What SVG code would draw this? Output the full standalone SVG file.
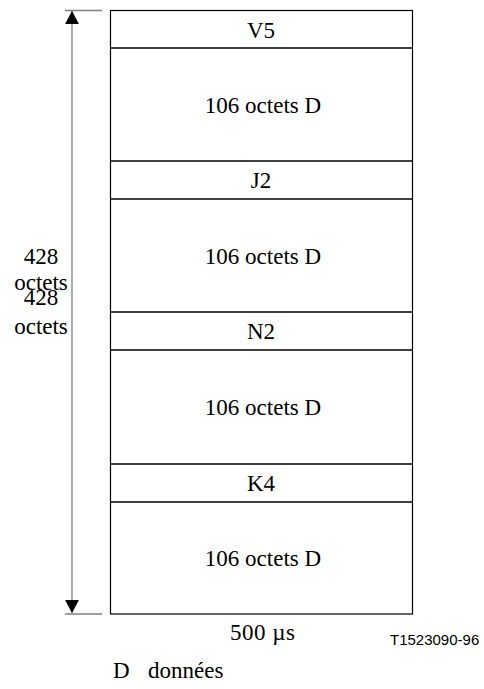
<svg xmlns="http://www.w3.org/2000/svg" width="484" height="689" viewBox="0 0 484 689">
<style>
.t{font-family:"Times New Roman","Liberation Serif","DejaVu Serif",serif;font-size:23px;fill:#000;text-anchor:middle}
.s{font-family:"Liberation Sans",Arial,sans-serif;font-size:15px;fill:#000}
.div{stroke:#000;stroke-width:1.4}
.g{stroke:#808080;stroke-width:1.3;fill:none}
</style>
<defs>
<marker id="ah" viewBox="0 0 13 14" refX="13" refY="7" markerWidth="13" markerHeight="14" markerUnits="userSpaceOnUse" orient="auto-start-reverse">
<path d="M0,0 L13,7 L0,14 Z" fill="#000"/>
</marker>
</defs>
<rect x="0" y="0" width="484" height="689" fill="#fff"/>
<g id="connectors">
<line class="g" x1="65" y1="10.5" x2="102" y2="10.5"/>
<line class="g" x1="65" y1="614" x2="102" y2="614"/>
<line class="g" x1="72" y1="11" x2="72" y2="613" marker-start="url(#ah)" marker-end="url(#ah)"/>
</g>
<g id="frame">
<rect x="110.5" y="10.5" width="302" height="603.5" fill="none" stroke="#000" stroke-width="1.2"/>
</g>
<g id="V5"><line class="div" x1="110" y1="48" x2="413" y2="48"/><text class="t" x="261" y="38">V5</text></g>
<g id="D1"><text class="t" x="263" y="113">106 octets D</text></g>
<g id="J2"><line class="div" x1="110" y1="161" x2="413" y2="161"/><line class="div" x1="110" y1="199" x2="413" y2="199"/><text class="t" x="261" y="188">J2</text></g>
<g id="D2"><text class="t" x="263" y="264">106 octets D</text></g>
<g id="N2"><line class="div" x1="110" y1="312" x2="413" y2="312"/><line class="div" x1="110" y1="350" x2="413" y2="350"/><text class="t" x="261" y="339">N2</text></g>
<g id="D3"><text class="t" x="263" y="415">106 octets D</text></g>
<g id="K4"><line class="div" x1="110" y1="464" x2="413" y2="464"/><line class="div" x1="110" y1="502" x2="413" y2="502"/><text class="t" x="261" y="491">K4</text></g>
<g id="D4"><text class="t" x="263" y="566">106 octets D</text></g>
<g id="labels">
<text class="t" x="41" y="264">428</text>
<text class="t" x="41" y="290">octets</text>
<text class="t" x="41" y="305">428</text>
<text class="t" x="41" y="334">octets</text>
<text class="t" x="262.5" y="640" textLength="65" lengthAdjust="spacing">500 µs</text>
<text class="s" x="390" y="645">T1523090-96</text>
<text class="t" x="113" y="678" style="text-anchor:start">D</text>
<text class="t" x="148" y="678" style="text-anchor:start">données</text>
</g>
</svg>
